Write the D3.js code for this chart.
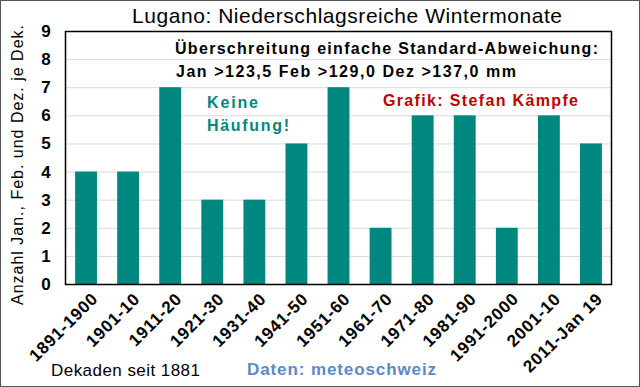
<!DOCTYPE html>
<html>
<head>
<meta charset="utf-8">
<script src="https://cdn.jsdelivr.net/npm/d3@7"></script>
<style>
body { margin: 0; background: #fff; }
text { font-family: "Liberation Sans", Arial, sans-serif; }
</style>
</head>
<body>
<div id="chart"></div>
<script>
var decades = ["1891-1900", "1901-10", "1911-20", "1921-30", "1931-40", "1941-50", "1951-60",
    "1961-70", "1971-80", "1981-90", "1991-2000", "2001-10", "2011-Jan 19"];
var counts = [4, 4, 7, 3, 3, 5, 7, 2, 6, 6, 2, 6, 5];
var yTicks = [0, 1, 2, 3, 4, 5, 6, 7, 8, 9];

var w = 640, h = 387;
var margin = { top: 31, bottom: 103, left: 65, right: 28 };

var svg = d3.select("#chart").append("svg")
    .attr("width", w)
    .attr("height", h);

// outer frame
svg.append("rect")
    .attr("x", 0.5).attr("y", 0.5)
    .attr("width", w - 1).attr("height", h - 1)
    .attr("fill", "#fff")
    .attr("stroke", "#555");

var x = d3.scaleBand()
    .domain(decades)
    .range([margin.left, w - margin.right])
    .paddingInner(0.48)
    .paddingOuter(0.24);

var y = d3.scaleLinear()
    .domain([0, 9])
    .range([h - margin.bottom, margin.top]);

// gridlines
svg.append("g")
    .selectAll("line")
    .data(yTicks)
    .enter()
    .append("line")
    .attr("x1", margin.left)
    .attr("x2", w - margin.right)
    .attr("y1", function(d) { return y(d) + 0.5; })
    .attr("y2", function(d) { return y(d) + 0.5; })
    .attr("stroke", "#d9d9d9");

svg.selectAll(".bar")
    .data(counts)
    .enter()
    .append("rect")
    .attr("class", "bar")
    .attr("x", function(d, i) { return x(decades[i]); })
    .attr("width", x.bandwidth())
    .attr("y", function(d) { return y(d); })
    .attr("height", function(d) { return y(0) - y(d); })
    .attr("fill", "#00877f");

// plot frame
svg.append("rect")
    .attr("x", margin.left + 0.5)
    .attr("y", margin.top + 0.5)
    .attr("width", w - margin.left - margin.right - 1)
    .attr("height", h - margin.top - margin.bottom)
    .attr("fill", "none")
    .attr("stroke", "#000")
    .attr("stroke-width", 1.5);

// y axis
var yAxis = d3.axisLeft(y).tickValues(yTicks).tickSize(0).tickPadding(14);
var gy = svg.append("g")
    .attr("transform", "translate(" + margin.left + ",0)")
    .call(yAxis);
gy.select(".domain").remove();
gy.selectAll("text")
    .attr("font-family", "Liberation Sans, Arial, sans-serif")
    .attr("font-size", 17)
    .attr("font-weight", "bold")
    .attr("text-anchor", "middle")
    .attr("x", -19)
    .attr("fill", "#000");

// x axis
var xAxis = d3.axisBottom(x).tickSize(0).tickPadding(8);
var gx = svg.append("g")
    .attr("transform", "translate(0," + (h - margin.bottom) + ")")
    .call(xAxis);
gx.select(".domain").remove();
gx.selectAll("text")
    .attr("font-family", "Liberation Sans, Arial, sans-serif")
    .attr("font-size", 17)
    .attr("font-weight", "bold")
    .attr("letter-spacing", 0.8)
    .attr("fill", "#000")
    .attr("text-anchor", "end")
    .attr("dy", "0.35em")
    .attr("transform", "translate(3,6) rotate(-45)");

// title
svg.append("text")
    .attr("x", 347)
    .attr("y", 23)
    .attr("text-anchor", "middle")
    .attr("font-size", 21)
    .attr("textLength", 430)
    .text("Lugano: Niederschlagsreiche Wintermonate");

// y label
svg.append("text")
    .attr("transform", "translate(23,165) rotate(-90)")
    .attr("text-anchor", "middle")
    .attr("font-size", 16)
    .attr("textLength", 280)
    .text("Anzahl Jan., Feb. und Dez. je Dek.");

// annotations
svg.append("text")
    .attr("x", 175).attr("y", 54)
    .attr("font-size", 16).attr("font-weight", "bold")
    .attr("textLength", 423)
    .text("Überschreitung einfache Standard-Abweichung:");
svg.append("text")
    .attr("x", 176).attr("y", 77)
    .attr("font-size", 16).attr("font-weight", "bold")
    .attr("textLength", 340)
    .text("Jan >123,5 Feb >129,0 Dez >137,0 mm");
svg.append("text")
    .attr("x", 207).attr("y", 108)
    .attr("font-size", 16).attr("font-weight", "bold")
    .attr("fill", "#00877f")
    .attr("textLength", 51)
    .text("Keine");
svg.append("text")
    .attr("x", 207).attr("y", 131)
    .attr("font-size", 16).attr("font-weight", "bold")
    .attr("fill", "#00877f")
    .attr("textLength", 82)
    .text("Häufung!");
svg.append("text")
    .attr("x", 383).attr("y", 106)
    .attr("font-size", 16).attr("font-weight", "bold")
    .attr("fill", "#c00000")
    .attr("textLength", 195)
    .text("Grafik: Stefan Kämpfe");

svg.append("text")
    .attr("x", 51).attr("y", 376)
    .attr("font-size", 17)
    .attr("textLength", 149)
    .text("Dekaden seit 1881");
svg.append("text")
    .attr("x", 247).attr("y", 375)
    .attr("font-size", 17).attr("font-weight", "bold")
    .attr("fill", "#5b8ac6")
    .attr("textLength", 189)
    .text("Daten: meteoschweiz");
</script>
</body>
</html>
